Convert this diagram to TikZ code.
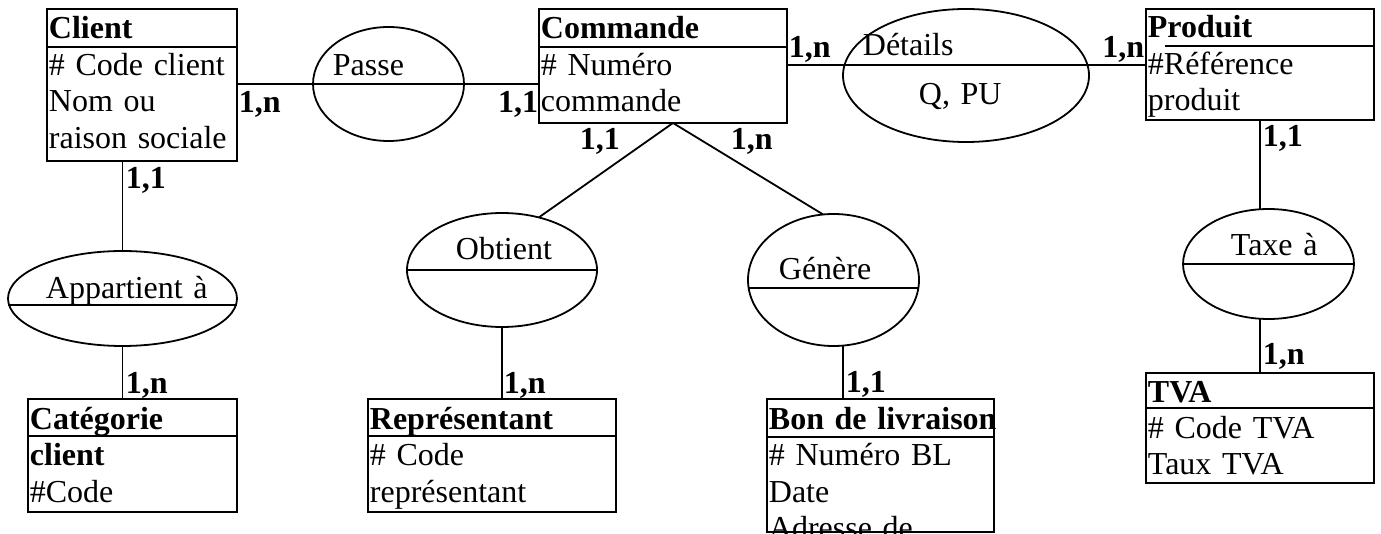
\documentclass[tikz,border=0pt]{standalone}
\usepackage{fontspec}
\setmainfont{Liberation Serif}
\usetikzlibrary{shapes.geometric}

\begin{document}
\begin{tikzpicture}[x=1pt, y=-1pt, line width=1.8pt,
    entity/.style={draw, rectangle, anchor=north west, inner sep=0pt, outer sep=0pt},
    assoc/.style={draw, ellipse, inner sep=0pt, outer sep=0pt},
    txt/.style={anchor=base west, inner sep=0pt, align=left, text width=300pt, font=\fontsize{32}{36.5}\selectfont},
    card/.style={anchor=base west, inner sep=0pt, font=\fontsize{32}{36.5}\selectfont\bfseries}]
    \useasboundingbox (0,0) rectangle (1381,534);
    \clip (0,0) rectangle (1381,534);

    % Client
    \node[entity, minimum width=190pt, minimum height=152pt] (client) at (47,9) {};
    \draw ([yshift=-38pt]client.north west) -- ([yshift=-38pt]client.north east);
    \node[txt] (clientatt) at ([xshift=1pt,yshift=-30pt]client.north west) {\textbf{Client}\\\# Code client\\Nom ou\\raison sociale};

    % Commande
    \node[entity, minimum width=248pt, minimum height=114pt] (commande) at (539,9) {};
    \draw ([yshift=-38pt]commande.north west) -- ([yshift=-38pt]commande.north east);
    \node[txt] (commandeatt) at ([xshift=1pt,yshift=-30pt]commande.north west) {\textbf{Commande}\\\# Numéro\\commande};

    % Produit
    \node[entity, minimum width=228pt, minimum height=111pt] (produit) at (1146,9) {};
    \draw ([xshift=19pt,yshift=-37pt]produit.north west) -- ([yshift=-37pt]produit.north east);
    \node[txt] (produitatt) at ([xshift=1pt,yshift=-29pt]produit.north west) {\textbf{Produit}\\\#Référence\\produit};

    % TVA
    \node[entity, minimum width=228pt, minimum height=110pt] (tva) at (1146,373) {};
    \draw ([yshift=-35pt]tva.north west) -- ([yshift=-35pt]tva.north east);
    \node[txt] (tvaatt) at ([xshift=1pt,yshift=-29pt]tva.north west) {\textbf{TVA}\\\# Code TVA\\Taux TVA};

    % Categorie client
    \node[entity, minimum width=209pt, minimum height=113pt] (categorie) at (28,399) {};
    \draw ([yshift=-37pt]categorie.north west) -- ([yshift=-37pt]categorie.north east);
    \node[txt] (categorieatt) at ([xshift=1pt,yshift=-30pt]categorie.north west) {\textbf{Catégorie}\\\textbf{client}\\\#Code};

    % Representant
    \node[entity, minimum width=248pt, minimum height=113pt] (representant) at (368,399) {};
    \draw ([yshift=-37pt]representant.north west) -- ([yshift=-37pt]representant.north east);
    \node[txt] (representantatt) at ([xshift=1pt,yshift=-30pt]representant.north west) {\textbf{Représentant}\\\# Code\\représentant};

    % Bon de livraison
    \node[entity, minimum width=227pt, minimum height=133pt] (bon) at (767,399) {};
    \draw ([yshift=-38pt]bon.north west) -- ([yshift=-38pt]bon.north east);
    \node[txt] (bonatt) at ([xshift=1pt,yshift=-30pt]bon.north west) {\textbf{Bon de livraison}\\\# Numéro BL\\Date\\Adresse de};

    % Associations
    \node[assoc, minimum width=151pt, minimum height=114pt] (passe) at (388.5,84) {};
    \node[assoc, minimum width=246pt, minimum height=133pt] (details) at (966,75.5) {};
    \node[assoc, minimum width=229pt, minimum height=95pt] (appartient) at (122.5,298.5) {};
    \node[assoc, minimum width=190pt, minimum height=114pt] (obtient) at (502,270) {};
    \node[assoc, minimum width=171pt, minimum height=132pt] (genere) at (833.5,280) {};
    \node[assoc, minimum width=171pt, minimum height=110pt] (taxe) at (1268.5,264) {};

    % Association labels
    \node[txt] (passelbl) at (332,76) {Passe};
    \node[txt] (detailslbl) at (862,56) {Détails};
    \node[txt] (detailsprop) at (918,105) {Q, PU};
    \node[txt] (appartientlbl) at (45,299) {Appartient à};
    \node[txt] (obtientlbl) at (455,260) {Obtient};
    \node[txt] (generelbl) at (778,280) {Génère};
    \node[txt] (taxelbl) at (1230,256) {Taxe à};

    % Dividers
    \draw ([yshift=-6.5pt]appartient.west) -- ([yshift=-6.5pt]appartient.east);
    \draw (obtient.west) -- (obtient.east);
    \draw ([yshift=-8pt]genere.west) -- ([yshift=-8pt]genere.east);
    \draw (taxe.west) -- (taxe.east);

    % Connections
    \draw (client.east |- passe) -- (passe -| commande.west);
    \coordinate (dl) at ([yshift=10.5pt]details.west);
    \draw (dl -| commande.east) -- (dl -| produit.west);
    \coordinate (apex) at ([xshift=10pt]commande.south);
    \draw (obtient.55) -- (apex) -- (genere.99);
    \draw (appartient.north |- client.south) -- (appartient.north);
    \draw (appartient.south) -- (appartient.south |- categorie.north);
    \draw (obtient.south) -- (obtient.south |- representant.north);
    \coordinate (gb) at ([xshift=9.5pt]genere.south);
    \draw (gb) -- (gb |- bon.north);
    \draw (produit.south) -- (produit.south |- taxe.north);
    \draw (tva.north |- taxe.south) -- (tva.north);

    % Cardinalities
    \node[card] (c1) at (238,113) {1,n};
    \node[card, anchor=base east] (c2) at (539,113) {1,1};
    \node[card] (c3) at (125,189) {1,1};
    \node[card] (c4) at (125,393) {1,n};
    \node[card] (c5) at (579,150) {1,1};
    \node[card] (c6) at (730,150) {1,n};
    \node[card] (c7) at (788,58) {1,n};
    \node[card, anchor=base east] (c8) at (1145,58) {1,n};
    \node[card] (c9) at (503,393) {1,n};
    \node[card] (c10) at (845,392) {1,1};
    \node[card] (c11) at (1262,147) {1,1};
    \node[card] (c12) at (1262,364) {1,n};
\end{tikzpicture}
\end{document}
